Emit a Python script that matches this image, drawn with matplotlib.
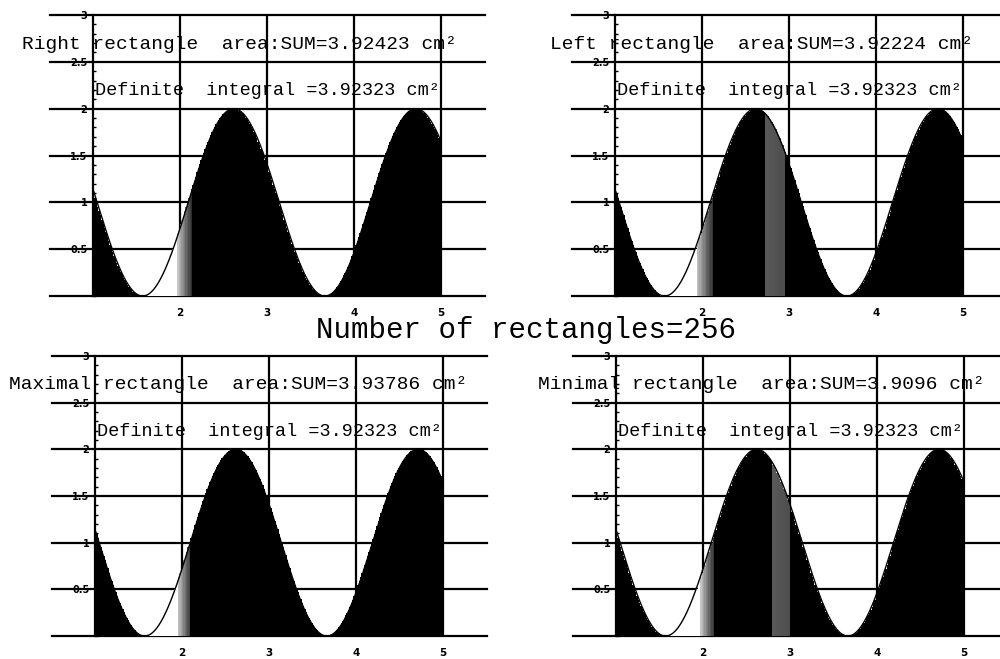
import numpy as np
import matplotlib
matplotlib.use('Agg')
import matplotlib.pyplot as plt
from matplotlib.ticker import MultipleLocator

# Riemann sums of f(x) = 1 + sin(3x) on [1, 5]
x_start, x_end = 1.0, 5.0
n_rect = 256
methods = ['right', 'left', 'max', 'min']
names = ['Right', 'Left', 'Maximal', 'Minimal']
sums = ['3.92423', '3.92224', '3.93786', '3.9096']
integral = '3.92323'

y_ticks = [0.5, 1.0, 1.5, 2.0, 2.5, 3.0]
y_labels = ['0.5', '1', '1.5', '2', '2.5', '3']
x_ticks = [2, 3, 4, 5]
x_labels = ['2', '3', '4', '5']

# washed-out patches of the printed rectangles (start, end, grey at start, grey at end)
fades = [
    [(1.53, 1.97, 1.0, 1.0), (1.97, 2.14, 0.8, 0.15)],
    [(1.52, 1.93, 1.0, 1.0), (1.93, 2.12, 0.8, 0.2), (2.72, 2.95, 0.35, 0.3)],
    [(1.55, 1.95, 1.0, 1.0), (1.95, 2.10, 0.8, 0.2)],
    [(1.55, 1.97, 1.0, 1.0), (1.97, 2.12, 0.8, 0.2), (2.80, 3.00, 0.35, 0.3)],
]

# panel placement [left, bottom, width, height] in figure fractions
boxes = [
    [0.0495, 0.5493, 0.435, 0.4294],
    [0.5715, 0.5493, 0.435, 0.4294],
    [0.0515, 0.0334, 0.435, 0.4280],
    [0.5725, 0.0334, 0.435, 0.4280],
]
title_x = [0.184, 0.253, 0.017, 0.103]

MONO = 'Liberation Mono'


def f(x):
    return 1 + np.sin(3 * x)


def rect_heights(method):
    edges = np.linspace(x_start, x_end, n_rect + 1)
    if method == 'right':
        return edges, f(edges[1:])
    if method == 'left':
        return edges, f(edges[:-1])
    sub = np.linspace(edges[:-1], edges[1:], 11)
    vals = f(sub)
    if method == 'max':
        return edges, vals.max(axis=0)
    return edges, vals.min(axis=0)


def bar_colors(mids, spans):
    cols = []
    for m in mids:
        g = 0.0
        for a, b, c0, c1 in spans:
            if a <= m <= b:
                g = c0 + (c1 - c0) * (m - a) / (b - a)
        cols.append((g, g, g))
    return cols


fig = plt.figure(figsize=(10, 6.59), dpi=100)

for i in range(4):
    ax = fig.add_axes(boxes[i])
    ax.set_xlim(0.5, 5.5)
    ax.set_ylim(-0.01, 3.01)
    for s in ['top', 'right', 'bottom']:
        ax.spines[s].set_visible(False)
    ax.spines['left'].set_position(('data', 1))
    ax.spines['left'].set_bounds(0, 3)
    ax.spines['left'].set_linewidth(1.6)
    ax.spines['left'].set_zorder(5)

    # grid
    for yv in [0] + y_ticks:
        ax.axhline(yv, color='black', lw=1.6, zorder=1, clip_on=False)
    ax.vlines(x_ticks, 0, 3, color='black', lw=1.6, zorder=1)

    edges, h = rect_heights(methods[i])
    mids = (edges[:-1] + edges[1:]) / 2
    cols = bar_colors(mids, fades[i])
    ax.bar(edges[:-1], h, width=edges[1] - edges[0], align='edge',
           color=cols, linewidth=0, antialiased=False, zorder=2)

    xs = np.linspace(x_start, x_end, 600)
    ax.plot(xs, f(xs), color='black', lw=1.0, zorder=3)

    ax.set_yticks(y_ticks)
    ax.set_yticklabels(y_labels, fontsize=7, fontweight='bold')
    ax.yaxis.set_minor_locator(MultipleLocator(0.1))
    ax.tick_params(axis='y', which='major', length=3, width=1.2, direction='out', pad=1)
    ax.tick_params(axis='y', which='minor', length=2, width=1, direction='in')
    ax.set_xticks(x_ticks)
    ax.set_xticklabels(x_labels, fontsize=7.5, fontweight='bold')
    ax.tick_params(axis='x', length=0, pad=8)

    ax.text(title_x[i], 2.69, names[i] + ' rectangle  area:SUM=' + sums[i] + ' cm\u00b2',
            family=MONO, fontsize=14, va='center', ha='left', zorder=6, clip_on=False)
    ax.text(1.02, 2.19, 'Definite  integral =' + integral + ' cm\u00b2',
            family=MONO, fontsize=13.3, va='center', ha='left', zorder=6)

fig.text(0.5265, 1 - 338 / 659, 'Number of rectangles=' + str(n_rect),
         family=MONO, fontsize=21, ha='center', va='baseline')

fig.savefig('out.png', dpi=100)
